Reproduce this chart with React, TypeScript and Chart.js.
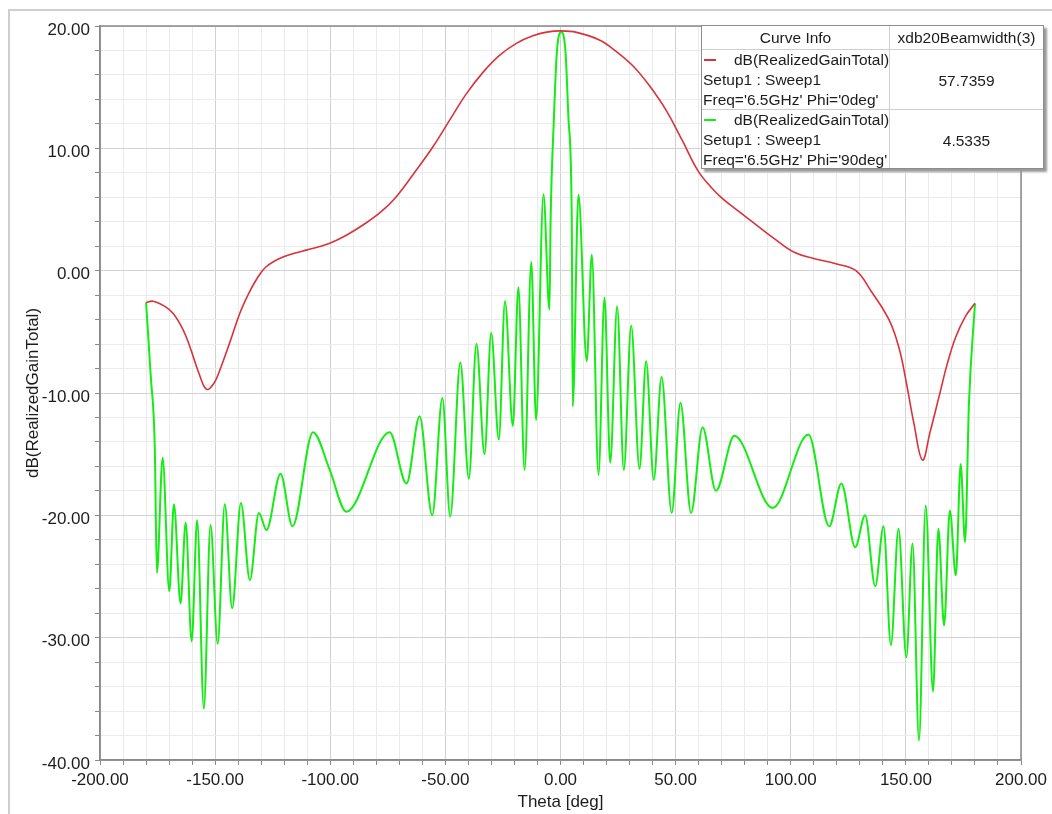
import React, { useEffect, useRef } from "react";
import { Chart, registerables } from "chart.js";

Chart.register(...registerables);

// ---- data ----
const redTheta = [
  -180, -176.9, -172, -168.2, -164, -161, -157, -153.7, -150.5, -147.9, -143.5, -139.3, -135.5, -132, -128, -122, -116, -110, -105, -100.2,
  -93, -85.8, -78, -71.3, -62.6, -55.4, -48, -40.9, -33.5, -26.5, -19, -12, -6, 0.3, 7, 16.9, 24, 31.4, 38.5, 45.9,
  53, 59.6, 65, 70, 77, 85, 93, 101.5, 110, 120, 128.3, 135, 142.7, 147, 150, 153.5, 157.2, 160.5, 164.4, 168, 171.7, 176, 180,
];
const redGain = [
  -2.6, -2.5, -2.9, -3.5, -4.8, -6.2, -8.4, -9.7, -9.2, -8.1, -5.8, -3.5, -1.9, -0.7, 0.3, 1.0, 1.4, 1.7, 1.95, 2.24,
  2.9, 3.73, 4.8, 6.05, 8.23, 10.13, 12.35, 14.45, 16.25, 17.6, 18.6, 19.2, 19.5, 19.6, 19.48, 18.86, 17.95, 16.75, 15.15, 13.1,
  10.6, 8.2, 6.9, 5.95, 4.9, 3.75, 2.6, 1.5, 1.0, 0.55, 0.0, -1.7, -4.03, -6.3, -8.94, -12.5, -15.48, -13.2, -10.3, -7.6, -5.4, -3.7, -2.67,
];

const greenTheta = [
  -180, -178, -176.2, -175.3, -172.8, -169.9, -167.9, -165.0, -162.8, -160.2, -157.8, -154.9, -152.0, -148.9, -145.8, -142.6, -138.8, -134.9,
  -131.0, -127.7, -121.6, -116.4, -107.5, -100.2, -93.0, -74.2, -66.9, -61.2, -55.7, -51.3, -47.9, -43.5, -39.8, -36.5, -33.0, -30.1,
  -26.8, -24.1, -20.7, -18.3, -15.6, -12.7, -10.6, -7.4, -4.8, -4.3, -2.9, -1.6, 0.3, 2.2, 3.5, 4.9, 5.3, 7.8, 11.4, 13.6, 16.5, 19.1,
  21.6, 24.6, 27.5, 30.7, 34.3, 37.2, 40.5, 43.9, 48.3, 52.1, 56.7, 61.7, 67.5, 75.5, 92.1, 107.7, 116.7, 122.0, 128.0, 132.3, 136.7,
  140.3, 143.5, 146.8, 150.2, 152.9, 155.7, 158.6, 161.8, 164.1, 166.6, 169.1, 171.7, 173.8, 175.7, 177.4, 180,
];
const greenGain = [
  -2.6, -8.5, -14.5, -24.7, -15.3, -26.2, -19.1, -27.2, -20.6, -30.3, -20.4, -35.8, -20.8, -30.5, -19.1, -27.6, -19.0, -25.3,
  -19.8, -21.2, -16.6, -20.9, -13.2, -16.3, -19.7, -13.2, -17.4, -11.9, -20.0, -10.4, -20.1, -7.5, -17.0, -6.0, -15.0, -5.1,
  -13.8, -2.5, -12.7, -1.35, -16.3, 0.7, -12.2, 6.25, -3.2, 4.1, 12.3, 17.8, 19.5, 17.8, 12.3, 4.1, -11.1, 6.2, -7.4, 1.3, -16.7, -2.2,
  -15.7, -2.9, -16.3, -4.5, -16.2, -7.4, -17.1, -8.7, -19.8, -10.8, -19.8, -12.8, -18.0, -13.5, -19.4, -13.4, -20.9, -17.4, -22.6, -20.0, -25.8,
  -20.9, -30.6, -21.1, -31.6, -22.3, -38.4, -19.2, -34.4, -21.1, -29.0, -19.6, -24.9, -15.8, -22.2, -10.8, -2.7,
];

const seriesNames = ["dB(RealizedGainTotal)", "dB(RealizedGainTotal)"];
const seriesSetups = ["Setup1 : Sweep1", "Setup1 : Sweep1"];
const seriesFreqs = ["Freq='6.5GHz' Phi='0deg'", "Freq='6.5GHz' Phi='90deg'"];
const beamwidthValues = ["57.7359", "4.5335"];
const seriesColors = ["#d8333b", "#14ec14"];
const legendHeaders = ["Curve Info", "xdb20Beamwidth(3)"];

const X_MIN = -200, X_MAX = 200, X_STEP = 10, X_LABEL_EVERY = 50;
const Y_MIN = -40, Y_MAX = 20, Y_STEP = 2, Y_LABEL_EVERY = 10;

const FONT = '"Liberation Sans", Arial, Helvetica, sans-serif';
const TEXT = "#1c1c1c";

const boxPlugin = {
  id: "plotBox",
  afterDraw(chart: any) {
    const { ctx, chartArea } = chart;
    ctx.save();
    ctx.strokeStyle = "#8a8a8a";
    ctx.lineWidth = 1.5;
    ctx.strokeRect(chartArea.left, chartArea.top, chartArea.right - chartArea.left, chartArea.bottom - chartArea.top);
    ctx.restore();
  },
};

export default function App() {
  const canvasRef = useRef<HTMLCanvasElement>(null);

  useEffect(() => {
    const canvas = canvasRef.current;
    if (!canvas) return;
    const chart = new Chart(canvas, {
      type: "line",
      data: {
        datasets: [
          {
            label: "Phi=0deg",
            data: redTheta.map((x, i) => ({ x, y: redGain[i] })),
            borderColor: seriesColors[0],
            borderWidth: 1.6,
            pointRadius: 0,
            tension: 0.4,
          },
          {
            label: "Phi=90deg",
            data: greenTheta.map((x, i) => ({ x, y: greenGain[i] })),
            borderColor: seriesColors[1],
            borderWidth: 2,
            pointRadius: 0,
            cubicInterpolationMode: "monotone",
          },
        ],
      },
      options: {
        responsive: false,
        animation: false,
        layout: { padding: { left: 0, right: 30, top: 26, bottom: 0 } },
        plugins: { legend: { display: false }, tooltip: { enabled: false } },
        scales: {
          x: {
            type: "linear",
            min: X_MIN,
            max: X_MAX,
            ticks: {
              stepSize: X_STEP,
              autoSkip: false,
              maxRotation: 0,
              padding: 5,
              color: TEXT,
              font: { family: FONT, size: 17 },
              callback: (v: any) => (Math.round(v) % X_LABEL_EVERY === 0 ? Number(v).toFixed(2) : ""),
            },
            grid: {
              color: (c: any) => (c.tick && Math.round(c.tick.value) % X_LABEL_EVERY === 0 ? "#d2d2d2" : "#ebebeb"),
              tickLength: 5,
              tickColor: "#8a8a8a",
            },
            border: { color: "#8a8a8a", width: 1.5 },
            title: {
              display: true,
              text: "Theta [deg]",
              color: TEXT,
              font: { family: FONT, size: 17 },
              padding: { top: 0, bottom: 1 },
            },
            afterFit: (s: any) => {
              s.height = 54;
            },
          },
          y: {
            type: "linear",
            min: Y_MIN,
            max: Y_MAX,
            ticks: {
              stepSize: Y_STEP,
              autoSkip: false,
              padding: 5,
              labelOffset: 4,
              color: TEXT,
              font: { family: FONT, size: 17 },
              callback: (v: any) => (Math.round(v) % Y_LABEL_EVERY === 0 ? Number(v).toFixed(2) : ""),
            },
            grid: {
              color: (c: any) => (c.tick && Math.round(c.tick.value) % Y_LABEL_EVERY === 0 ? "#d2d2d2" : "#ebebeb"),
              tickLength: 5,
              tickColor: "#8a8a8a",
            },
            border: { color: "#8a8a8a", width: 1.5 },
            title: {
              display: true,
              text: "dB(RealizedGainTotal)",
              color: TEXT,
              font: { family: FONT, size: 17 },
              padding: { top: 23, bottom: 0 },
            },
            afterFit: (s: any) => {
              s.width = 100;
            },
          },
        },
      },
      plugins: [boxPlugin],
    } as any);
    return () => chart.destroy();
  }, []);

  const rowTop = [49, 109];

  return (
    <div style={{ position: "fixed", left: 0, top: 0, width: 1052, height: 814, background: "#fff", overflow: "hidden" }}>
      <div
        style={{
          position: "absolute",
          left: 8,
          top: 9,
          width: 1100,
          height: 900,
          borderLeft: "2px solid #cfcfcf",
          borderTop: "2px solid #cfcfcf",
        }}
      />
      <canvas ref={canvasRef} width={1052} height={814} style={{ position: "absolute", left: 0, top: 0, width: 1052, height: 814 }} />
      <div
        style={{
          position: "absolute",
          left: 701,
          top: 25,
          width: 343,
          height: 144,
          background: "#fff",
          border: "1px solid #8c8c8c",
          boxShadow: "3px 3px 2px #9a9a9a",
          fontFamily: FONT,
          fontSize: 15.5,
          color: TEXT,
          boxSizing: "border-box",
        }}
      >
        <div style={{ position: "absolute", left: 187, top: 0, width: 1, height: 142, background: "#cfcfcf" }} />
        <div style={{ position: "absolute", left: 0, top: 23, width: 341, height: 1, background: "#cfcfcf" }} />
        <div style={{ position: "absolute", left: 0, top: 83, width: 341, height: 1, background: "#cfcfcf" }} />
        <div style={{ position: "absolute", left: 0, top: 0, width: 187, height: 23, lineHeight: "24px", textAlign: "center" }}>
          {legendHeaders[0]}
        </div>
        <div style={{ position: "absolute", left: 188, top: 0, width: 153, height: 23, lineHeight: "24px", textAlign: "center" }}>
          {legendHeaders[1]}
        </div>
        {seriesNames.map((name, i) => (
          <React.Fragment key={i}>
            <div style={{ position: "absolute", left: 1, top: rowTop[i] - 25, width: 186, lineHeight: "20px", whiteSpace: "nowrap" }}>
              <div style={{ position: "relative", height: 20 }}>
                <span
                  style={{
                    position: "absolute",
                    left: 1,
                    top: 9,
                    width: 12,
                    height: 2,
                    background: seriesColors[i],
                  }}
                />
                <span style={{ position: "absolute", left: 31 }}>{name}</span>
              </div>
              <div>{seriesSetups[i]}</div>
              <div>{seriesFreqs[i]}</div>
            </div>
            <div
              style={{
                position: "absolute",
                left: 188,
                top: rowTop[i] - 25,
                width: 153,
                height: 60,
                lineHeight: "62px",
                textAlign: "center",
              }}
            >
              {beamwidthValues[i]}
            </div>
          </React.Fragment>
        ))}
      </div>
    </div>
  );
}
